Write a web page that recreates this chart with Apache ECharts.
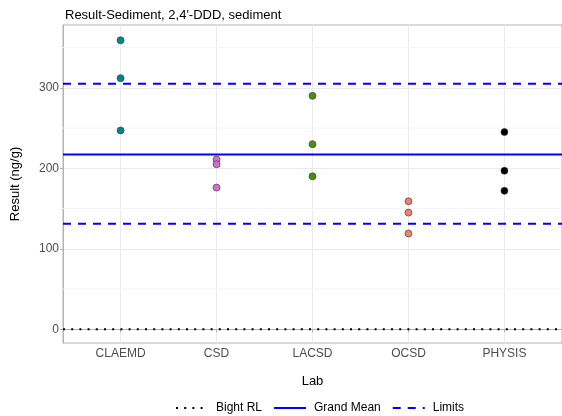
<!DOCTYPE html>
<html>
<head>
<meta charset="utf-8">
<script src="https://cdn.jsdelivr.net/npm/echarts@6/dist/echarts.min.js"></script>
<style>
  html, body { margin: 0; padding: 0; background: #fff; }
  #chart { width: 562px; height: 416px; }
</style>
</head>
<body>
<div id="chart"></div>
<script>
// labs on the x axis
const labs = ['CLAEMD', 'CSD', 'LACSD', 'OCSD', 'PHYSIS'];
const labColors = ['#00868B', '#D46FD0', '#4E8B12', '#EE8070', '#000000'];

// results per lab (ng/g)
const claemd = [359, 312, 247];
const csd = [211, 205, 176];
const lacsd = [290, 230, 190];
const ocsd = [159, 145, 119];
const physis = [245, 197, 172];
const labResults = [claemd, csd, lacsd, ocsd, physis];

// reference lines
const bightRL = 0;
const grandMean = 217;
const limits = [305, 131];

const yTicks = [0, 100, 200, 300];
const yMinor = [50, 150, 250, 350];

const xMin = 0.4, xMax = 5.6;
const yMin = -17, yMax = 378;

const chart = echarts.init(document.getElementById('chart'));

const hline = (v) => [[xMin, v], [xMax, v]];

const series = [];

// minor grid lines (ggplot style)
yMinor.forEach(v => {
  series.push({
    type: 'line',
    silent: true,
    symbol: 'none',
    data: hline(v),
    lineStyle: { color: '#f5f5f5', width: 1 },
    z: 0
  });
});

series.push({
  name: 'Bight RL',
  type: 'line',
  symbol: 'none',
  data: hline(bightRL),
  lineStyle: { color: '#000', width: 2, type: [2, 6.2] },
  z: 3
});
series.push({
  name: 'Grand Mean',
  type: 'line',
  symbol: 'none',
  data: hline(grandMean),
  lineStyle: { color: '#0000FF', width: 2, type: 'solid' },
  z: 3
});
limits.forEach(v => {
  series.push({
    name: 'Limits',
    type: 'line',
    symbol: 'none',
    data: hline(v),
    lineStyle: { color: '#0000FF', width: 2, type: [8, 7] },
    z: 3
  });
});

labResults.forEach((vals, i) => {
  series.push({
    name: labs[i],
    type: 'scatter',
    symbolSize: 7,
    data: vals.map(v => [i + 1, v]),
    itemStyle: { color: labColors[i], borderColor: '#333', borderWidth: 0.6, opacity: 1 },
    z: 4
  });
});

const option = {
  animation: false,
  backgroundColor: '#fff',
  title: {
    text: "Result-Sediment, 2,4'-DDD, sediment",
    left: 60,
    top: 4,
    textStyle: { fontFamily: 'Liberation Sans', fontSize: 13, fontWeight: 'normal', color: '#000' }
  },
  legend: {
    data: ['Bight RL', 'Grand Mean', 'Limits'],
    top: 397,
    left: 170,
    itemWidth: 32,
    itemHeight: 10,
    itemGap: 11,
    itemStyle: { opacity: 0 },
    textStyle: { fontFamily: 'Liberation Sans', fontSize: 12, color: '#000', padding: [0, 0, 0, 3] }
  },
  grid: {
    left: 63,
    right: -3,
    top: 25,
    bottom: 73,
    show: true,
    borderColor: '#b3b3b3',
    borderWidth: 1
  },
  xAxis: {
    type: 'value',
    min: xMin,
    max: xMax,
    name: 'Lab',
    nameLocation: 'middle',
    nameGap: 32,
    nameTextStyle: { fontFamily: 'Liberation Sans', fontSize: 13, color: '#000' },
    axisLine: { show: true, lineStyle: { color: '#b3b3b3' } },
    axisTick: { show: true, customValues: [1, 2, 3, 4, 5], length: 3, lineStyle: { color: '#b3b3b3' } },
    axisLabel: {
      customValues: [1, 2, 3, 4, 5],
      formatter: v => labs[Math.round(v) - 1] || '',
      fontFamily: 'Liberation Sans',
      fontSize: 12,
      color: '#4d4d4d',
      margin: 5
    },
    splitLine: { show: true, lineStyle: { color: '#ebebeb', width: 1 } }
  },
  yAxis: {
    type: 'value',
    min: yMin,
    max: yMax,
    name: 'Result (ng/g)',
    nameLocation: 'middle',
    nameGap: 41,
    nameTextStyle: { fontFamily: 'Liberation Sans', fontSize: 13, color: '#000' },
    axisLine: { show: true, lineStyle: { color: '#b3b3b3' } },
    axisTick: { show: true, customValues: yTicks, length: 3, lineStyle: { color: '#b3b3b3' } },
    axisLabel: {
      customValues: yTicks,
      fontFamily: 'Liberation Sans',
      fontSize: 12,
      color: '#4d4d4d',
      margin: 4
    },
    splitLine: { show: true, lineStyle: { color: '#ebebeb', width: 1 } }
  },
  series: series
};

chart.setOption(option);
</script>
</body>
</html>
